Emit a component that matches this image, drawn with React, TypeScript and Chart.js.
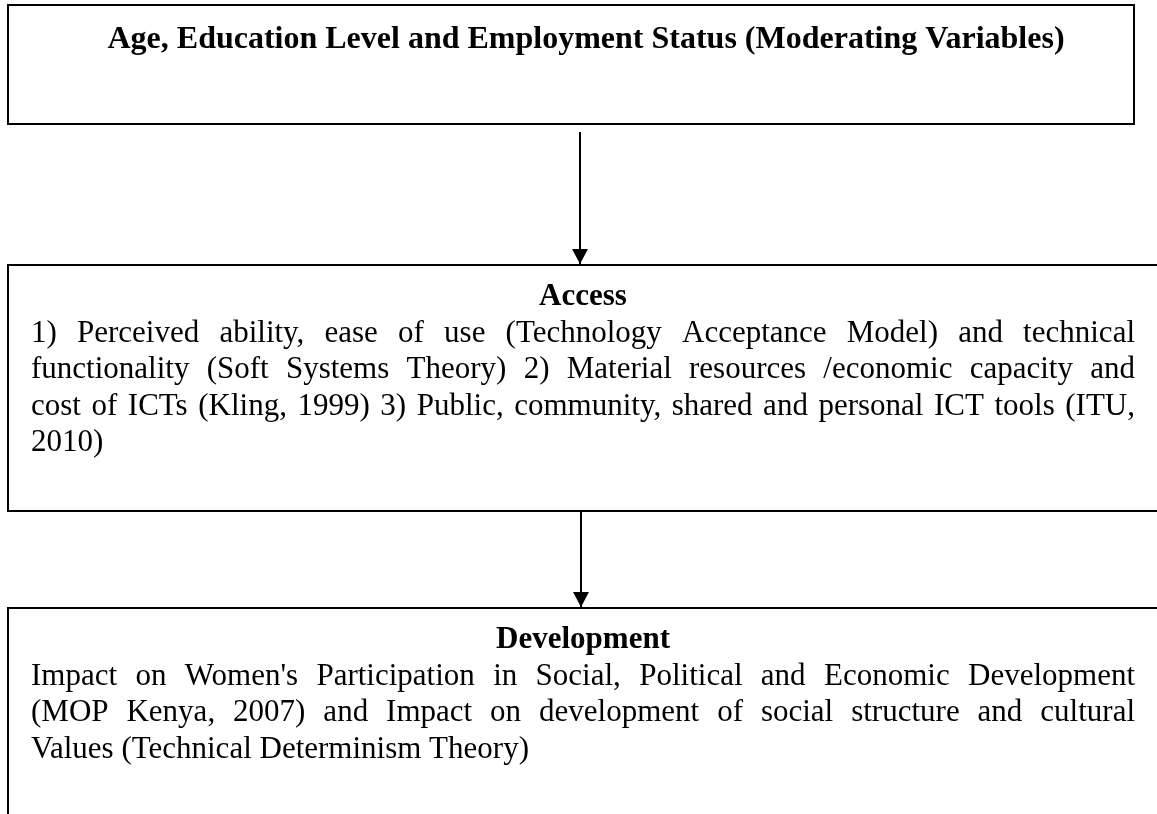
import { useEffect, useRef } from "react";
import { Chart, registerables } from "chart.js";

Chart.register(...registerables);

const W = 1157;
const H = 814;

// ---- Diagram data (diagram units = page pixels on identity scales) ----
const nodeNames = ["Moderating Variables", "Access", "Development"];
const nodeLeft = [8, 8, 8];
const nodeRight = [1134, 1180, 1180];
const nodeTop = [5, 265, 608];
const nodeBottom = [124, 511, 850];

const headings = [
  "Age, Education Level and Employment Status (Moderating Variables)",
  "Access",
  "Development",
];

const accessLines = [
  "1) Perceived ability, ease of use (Technology Acceptance Model) and technical",
  "functionality (Soft Systems Theory) 2) Material resources /economic capacity and",
  "cost of ICTs (Kling, 1999) 3) Public, community, shared and personal ICT tools (ITU,",
  "2010)",
];

const developmentLines = [
  "Impact on Women's Participation in Social, Political and Economic Development",
  "(MOP Kenya, 2007) and Impact on development of social structure and cultural",
  "Values (Technical Determinism Theory)",
];

const arrowX = [580, 581];
const arrowFrom = [132, 511];
const arrowTo = [264, 607];

// ---- Styles ----
const FONT = '"Liberation Serif", "Times New Roman", serif';
const TITLE_FONT = `bold 32px ${FONT}`;
const HEAD_FONT = `bold 31px ${FONT}`;
const BODY_FONT = `31px ${FONT}`;
const TEXT_LEFT = 31;
const TEXT_RIGHT = 1135;
const TITLE_CENTER = 586;
const HEAD_CENTER = 583;
const TITLE_OFFSET = 43;
const HEAD_OFFSET = 40;
const LINE_GAP = 36.6;
const HEAD_W = 16;
const HEAD_H = 15;

function drawJustified(
  ctx: CanvasRenderingContext2D,
  text: string,
  left: number,
  right: number,
  y: number,
  justify: boolean
) {
  ctx.textAlign = "left";
  const words = text.split(" ");
  if (!justify || words.length < 2) {
    ctx.fillText(text, left, y);
    return;
  }
  const widths = words.map((w) => ctx.measureText(w).width);
  const total = widths.reduce((a, b) => a + b, 0);
  const gap = (right - left - total) / (words.length - 1);
  let x = left;
  words.forEach((w, i) => {
    ctx.fillText(w, x, y);
    x += widths[i] + gap;
  });
}

const diagramPlugin = {
  id: "diagramText",
  afterDatasetsDraw(chart: any) {
    const ctx: CanvasRenderingContext2D = chart.ctx;
    const xs = chart.scales.x;
    const ys = chart.scales.y;
    ctx.save();
    ctx.fillStyle = "#000";
    ctx.textBaseline = "alphabetic";

    // arrow heads at the end of each arrow dataset
    chart.data.datasets.forEach((ds: any, i: number) => {
      if (ds.role !== "arrow") return;
      const meta = chart.getDatasetMeta(i);
      const pts = meta.data;
      const tip = pts[pts.length - 1];
      ctx.beginPath();
      ctx.moveTo(tip.x, tip.y);
      ctx.lineTo(tip.x - HEAD_W / 2, tip.y - HEAD_H);
      ctx.lineTo(tip.x + HEAD_W / 2, tip.y - HEAD_H);
      ctx.closePath();
      ctx.fill();
    });

    // title of moderating box
    ctx.font = TITLE_FONT;
    ctx.textAlign = "center";
    ctx.fillText(
      headings[0],
      xs.getPixelForValue(TITLE_CENTER),
      ys.getPixelForValue(nodeTop[0] + TITLE_OFFSET)
    );

    const bodies = [accessLines, developmentLines];
    [1, 2].forEach((n, k) => {
      const base = nodeTop[n] + HEAD_OFFSET;
      ctx.font = HEAD_FONT;
      ctx.textAlign = "center";
      ctx.fillText(
        headings[n],
        xs.getPixelForValue(HEAD_CENTER),
        ys.getPixelForValue(base)
      );
      ctx.font = BODY_FONT;
      const lines = bodies[k];
      lines.forEach((line, j) => {
        drawJustified(
          ctx,
          line,
          xs.getPixelForValue(TEXT_LEFT),
          xs.getPixelForValue(TEXT_RIGHT),
          ys.getPixelForValue(base + LINE_GAP * (j + 1)),
          j < lines.length - 1
        );
      });
    });
    ctx.restore();
  },
};

export default function App() {
  const ref = useRef<HTMLCanvasElement | null>(null);

  useEffect(() => {
    if (!ref.current) return;
    const boxSets = nodeNames.map((name, i) => ({
      type: "line" as const,
      label: name,
      role: "box",
      data: [
        { x: nodeLeft[i], y: nodeTop[i] },
        { x: nodeRight[i], y: nodeTop[i] },
        { x: nodeRight[i], y: nodeBottom[i] },
        { x: nodeLeft[i], y: nodeBottom[i] },
        { x: nodeLeft[i], y: nodeTop[i] },
      ],
      borderColor: "#000",
      borderWidth: 2,
      borderJoinStyle: "miter" as const,
      borderCapStyle: "square" as const,
      pointRadius: 0,
      fill: false,
      tension: 0,
      clip: false as any,
    }));
    const arrowSets = arrowX.map((x, i) => ({
      type: "line" as const,
      label: `arrow ${i + 1}`,
      role: "arrow",
      data: [
        { x, y: arrowFrom[i] },
        { x, y: arrowTo[i] },
      ],
      borderColor: "#000",
      borderWidth: 2,
      pointRadius: 0,
      fill: false,
      tension: 0,
    }));

    const chart = new Chart(ref.current, {
      type: "line",
      data: { datasets: [...boxSets, ...arrowSets] as any },
      options: {
        responsive: false,
        animation: false,
        devicePixelRatio: 1,
        events: [],
        layout: { padding: 0 },
        plugins: { legend: { display: false }, tooltip: { enabled: false } },
        scales: {
          x: { type: "linear", min: 0, max: W, display: false },
          y: { type: "linear", min: 0, max: H, reverse: true, display: false },
        },
      },
      plugins: [diagramPlugin],
    });
    return () => chart.destroy();
  }, []);

  return (
    <div
      style={{
        position: "fixed",
        left: 0,
        top: 0,
        width: W,
        height: H,
        background: "#fff",
        overflow: "hidden",
      }}
    >
      <canvas ref={ref} width={W} height={H} style={{ display: "block" }} />
    </div>
  );
}
